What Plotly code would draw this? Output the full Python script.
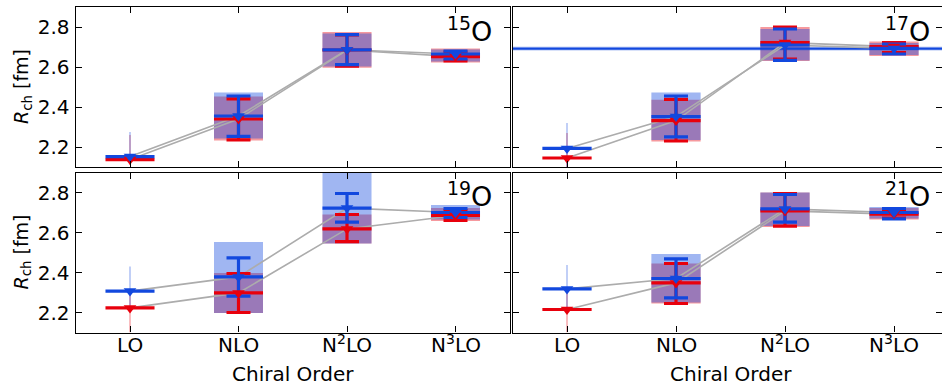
import plotly.graph_objects as go

# ---------------------------------------------------------------------------
# Chiral orders and axis ticks
# ---------------------------------------------------------------------------
orders = ["LO", "NLO", "N<sup>2</sup>LO", "N<sup>3</sup>LO"]
order_pos = [0, 1, 2, 3]
r_ticks = [2.2, 2.4, 2.6, 2.8]
r_range = [2.1, 2.9]

# Charge radii R_ch [fm] for two interactions ("red" and "blue" sets).
# mid: central value, err_lo/err_hi: error-bar ends, box_lo/box_hi: band ends.
# None = no error bar at that order.

# 15O
o15_red_mid = [2.137, 2.340, 2.685, 2.652]
o15_red_err_lo = [None, 2.236, 2.604, 2.631]
o15_red_err_hi = [None, 2.441, 2.760, 2.675]
o15_red_box_lo = [2.110, 2.232, 2.596, 2.622]
o15_red_box_hi = [2.260, 2.452, 2.775, 2.692]
o15_blue_mid = [2.152, 2.355, 2.686, 2.665]
o15_blue_err_lo = [None, 2.253, 2.612, 2.640]
o15_blue_err_hi = [None, 2.455, 2.762, 2.680]
o15_blue_box_lo = [2.120, 2.242, 2.603, 2.628]
o15_blue_box_hi = [2.275, 2.472, 2.768, 2.688]

# 17O
o17_red_mid = [2.145, 2.332, 2.722, 2.702]
o17_red_err_lo = [None, 2.230, 2.640, 2.672]
o17_red_err_hi = [None, 2.438, 2.800, 2.722]
o17_red_box_lo = [2.100, 2.227, 2.630, 2.655]
o17_red_box_hi = [2.270, 2.436, 2.800, 2.727]
o17_blue_mid = [2.193, 2.352, 2.710, 2.693]
o17_blue_err_lo = [None, 2.251, 2.633, 2.665]
o17_blue_err_hi = [None, 2.455, 2.790, 2.715]
o17_blue_box_lo = [2.100, 2.235, 2.633, 2.660]
o17_blue_box_hi = [2.320, 2.473, 2.790, 2.720]

# 19O
o19_red_mid = [2.223, 2.298, 2.618, 2.685]
o19_red_err_lo = [None, 2.200, 2.554, 2.660]
o19_red_err_hi = [None, 2.395, 2.690, 2.710]
o19_red_box_lo = [2.100, 2.198, 2.545, 2.657]
o19_red_box_hi = [2.310, 2.398, 2.690, 2.722]
o19_blue_mid = [2.307, 2.378, 2.722, 2.700]
o19_blue_err_lo = [None, 2.282, 2.652, 2.675]
o19_blue_err_hi = [None, 2.473, 2.795, 2.720]
o19_blue_box_lo = [2.220, 2.198, 2.545, 2.665]
o19_blue_box_hi = [2.430, 2.553, 2.930, 2.737]

# 21O
o21_red_mid = [2.215, 2.348, 2.708, 2.692]
o21_red_err_lo = [None, 2.245, 2.632, 2.672]
o21_red_err_hi = [None, 2.445, 2.795, 2.715]
o21_red_box_lo = [2.100, 2.245, 2.628, 2.665]
o21_red_box_hi = [2.320, 2.445, 2.800, 2.722]
o21_blue_mid = [2.318, 2.370, 2.718, 2.700]
o21_blue_err_lo = [None, 2.273, 2.652, 2.668]
o21_blue_err_hi = [None, 2.468, 2.790, 2.720]
o21_blue_box_lo = [2.210, 2.250, 2.632, 2.670]
o21_blue_box_hi = [2.437, 2.493, 2.800, 2.728]

# Experimental charge radius of 17O and its uncertainty
o17_exp = 2.692
o17_exp_err = 0.011

# ---------------------------------------------------------------------------
# Styling
# ---------------------------------------------------------------------------
RED = "rgb(232,0,12)"
BLUE = "rgb(18,72,222)"
RED_FILL = "rgba(232,0,12,0.4)"
BLUE_FILL = "rgba(18,72,222,0.4)"
GREY = "rgb(172,172,172)"
FONT = "DejaVu Sans"

W, H = 942, 386
BOX_HALF = 0.226       # half width of bands / central bars
LO_BOX_HALF = 0.006    # LO band is drawn as a thin sliver

# pixel geometry of the 2x2 grid
col_px = [(75.75, 509.75), (512.5, 942.0)]
row_px = [(7.0, 167.0), (172.5, 332.5)]
x_ranges = [[-0.5, 3.5], [-0.5, (942.0 - 567.0) / 109.0]]


def xdom(c):
    a, b = col_px[c]
    return [a / W, b / W]


def ydom(r):
    a, b = row_px[r]
    return [(H - b) / H, (H - a) / H]


panels = [
    dict(label="15", row=0, col=0,
         red=(o15_red_mid, o15_red_err_lo, o15_red_err_hi, o15_red_box_lo, o15_red_box_hi),
         blue=(o15_blue_mid, o15_blue_err_lo, o15_blue_err_hi, o15_blue_box_lo, o15_blue_box_hi)),
    dict(label="17", row=0, col=1,
         red=(o17_red_mid, o17_red_err_lo, o17_red_err_hi, o17_red_box_lo, o17_red_box_hi),
         blue=(o17_blue_mid, o17_blue_err_lo, o17_blue_err_hi, o17_blue_box_lo, o17_blue_box_hi)),
    dict(label="19", row=1, col=0,
         red=(o19_red_mid, o19_red_err_lo, o19_red_err_hi, o19_red_box_lo, o19_red_box_hi),
         blue=(o19_blue_mid, o19_blue_err_lo, o19_blue_err_hi, o19_blue_box_lo, o19_blue_box_hi)),
    dict(label="21", row=1, col=1,
         red=(o21_red_mid, o21_red_err_lo, o21_red_err_hi, o21_red_box_lo, o21_red_box_hi),
         blue=(o21_blue_mid, o21_blue_err_lo, o21_blue_err_hi, o21_blue_box_lo, o21_blue_box_hi)),
]

fig = go.Figure()


def band_trace(xa, ya, lo, hi, fill):
    xs, ys = [], []
    for i, x in enumerate(order_pos):
        h = LO_BOX_HALF if i == 0 else BOX_HALF
        xs += [x - h, x + h, x + h, x - h, x - h, None]
        ys += [lo[i], lo[i], hi[i], hi[i], lo[i], None]
    return go.Scatter(x=xs, y=ys, xaxis=xa, yaxis=ya, mode="lines",
                      fill="toself", fillcolor=fill, line=dict(width=0, color=fill),
                      hoverinfo="skip", showlegend=False)


def bar_trace(xa, ya, mid, color):
    xs, ys = [], []
    for i, x in enumerate(order_pos):
        xs += [x - BOX_HALF, x + BOX_HALF, None]
        ys += [mid[i], mid[i], None]
    return go.Scatter(x=xs, y=ys, xaxis=xa, yaxis=ya, mode="lines",
                      line=dict(color=color, width=3.2), showlegend=False,
                      hoverinfo="skip")


def err_trace(xa, ya, mid, lo, hi, color):
    xs, ys, up, dn = [], [], [], []
    for i, x in enumerate(order_pos):
        if lo[i] is None:
            continue
        xs.append(x)
        ys.append(mid[i])
        up.append(hi[i] - mid[i])
        dn.append(mid[i] - lo[i])
    return go.Scatter(x=xs, y=ys, xaxis=xa, yaxis=ya, mode="markers",
                      marker=dict(size=1, color="rgba(0,0,0,0)"),
                      error_y=dict(type="data", symmetric=False, array=up,
                                   arrayminus=dn, color=color, thickness=3.2,
                                   width=12),
                      showlegend=False, hoverinfo="skip")


annotations = []
layout_axes = {}

tick_style = dict(ticks="inside", ticklen=6, tickwidth=1.2, tickcolor="black",
                  showgrid=False, zeroline=False,
                  tickfont=dict(family=FONT, size=20, color="black"))

for k, p in enumerate(panels):
    n = "" if k == 0 else str(k + 1)
    xa, ya = "x" + n, "y" + n
    r, c = p["row"], p["col"]

    rm, rlo, rhi, rblo, rbhi = p["red"]
    bm, blo, bhi, bblo, bbhi = p["blue"]

    # uncertainty bands (red first, blue over it)
    fig.add_trace(band_trace(xa, ya, rblo, rbhi, RED_FILL))
    fig.add_trace(band_trace(xa, ya, bblo, bbhi, BLUE_FILL))

    if p["label"] == "17":
        fig.add_trace(go.Scatter(
            x=[-1, 5, 5, -1, -1],
            y=[o17_exp - o17_exp_err, o17_exp - o17_exp_err,
               o17_exp + o17_exp_err, o17_exp + o17_exp_err,
               o17_exp - o17_exp_err],
            xaxis=xa, yaxis=ya, mode="lines", fill="toself",
            fillcolor="rgba(18,72,222,0.22)", line=dict(width=0),
            showlegend=False, hoverinfo="skip"))
        fig.add_trace(go.Scatter(x=[-1, 5], y=[o17_exp, o17_exp], xaxis=xa,
                                 yaxis=ya, mode="lines",
                                 line=dict(color=BLUE, width=2.2),
                                 showlegend=False, hoverinfo="skip"))

    # grey lines joining the central values
    for mid in (rm, bm):
        fig.add_trace(go.Scatter(x=order_pos, y=mid, xaxis=xa, yaxis=ya,
                                 mode="lines", line=dict(color=GREY, width=1.6),
                                 showlegend=False, hoverinfo="skip"))

    # error bars and central bars
    fig.add_trace(err_trace(xa, ya, rm, rlo, rhi, RED))
    fig.add_trace(bar_trace(xa, ya, rm, RED))
    fig.add_trace(err_trace(xa, ya, bm, blo, bhi, BLUE))
    fig.add_trace(bar_trace(xa, ya, bm, BLUE))

    # markers
    for mid, col in ((rm, RED), (bm, BLUE)):
        fig.add_trace(go.Scatter(x=order_pos, y=mid, xaxis=xa, yaxis=ya,
                                 mode="markers",
                                 marker=dict(symbol="triangle-down", size=11,
                                             color=col, line=dict(width=0)),
                                 showlegend=False, hoverinfo="skip"))

    layout_axes["xaxis" + n] = dict(
        tick_style, showline=True, linecolor="black", linewidth=1.4,
        mirror="ticks", domain=xdom(c), range=x_ranges[c], anchor=ya,
        tickmode="array", tickvals=order_pos, showticklabels=False)
    layout_axes["yaxis" + n] = dict(
        tick_style, showline=True, linecolor="black", linewidth=1.4,
        mirror=("ticks" if c == 0 else False), domain=ydom(r), range=r_range,
        anchor=xa, tickmode="array", tickvals=r_ticks,
        ticktext=[f"{v:.1f}" for v in r_ticks],
        showticklabels=(c == 0), ticklabelstandoff=1)

    # right-hand panels run off the page edge: only their tick marks show
    if c == 1:
        extra = str(5 + r)
        layout_axes["yaxis" + extra] = dict(
            tick_style, overlaying=ya, side="right", anchor=xa,
            range=r_range, tickmode="array", tickvals=r_ticks,
            showline=False, showticklabels=False)
        fig.add_trace(go.Scatter(x=[None], y=[None], xaxis=xa,
                                 yaxis="y" + extra, showlegend=False,
                                 hoverinfo="skip"))

    # order labels beneath the lower panels
    if r == 1:
        for x, lab in zip(order_pos, orders):
            annotations.append(dict(
                text=lab, x=x, xref=xa, y=(H - 359) / H, yref="paper",
                xanchor="center", yanchor="bottom", showarrow=False,
                font=dict(family=FONT, size=20, color="black")))

    # isotope label
    xr = 494.0 if c == 0 else 932.0
    ytop = row_px[r][0] + 3
    annotations.append(dict(
        text="<sup>" + p["label"] + "</sup>O", x=xr / W, y=(H - ytop) / H,
        xref="paper", yref="paper", xanchor="right", yanchor="top",
        showarrow=False, font=dict(family=FONT, size=27, color="black")))

# axis titles
for cx in (292.75, 730.5):
    annotations.append(dict(
        text="Chiral Order", x=cx / W, y=(H - 374) / H, xref="paper",
        yref="paper", xanchor="center", yanchor="middle", showarrow=False,
        font=dict(family=FONT, size=20, color="black")))
for r in (0, 1):
    cy = (row_px[r][0] + row_px[r][1]) / 2
    annotations.append(dict(
        text="<i>R</i><sub>ch</sub> [fm]", x=22 / W, y=(H - cy) / H,
        xref="paper", yref="paper", xanchor="center", yanchor="middle",
        textangle=-90, showarrow=False,
        font=dict(family=FONT, size=19, color="black")))

fig.update_layout(
    width=W, height=H, margin=dict(l=0, r=0, t=0, b=0),
    paper_bgcolor="white", plot_bgcolor="white", showlegend=False,
    font=dict(family=FONT, color="black"), annotations=annotations,
    **layout_axes)

fig.write_html("out.html")
